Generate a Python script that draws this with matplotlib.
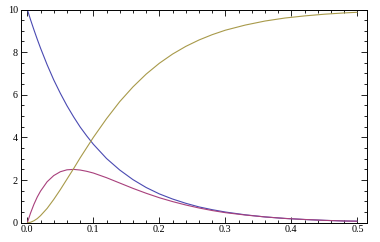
import matplotlib
matplotlib.use("Agg")
import matplotlib.pyplot as plt
from matplotlib.ticker import MultipleLocator

t = [0.0, 0.005, 0.01, 0.015, 0.02, 0.03, 0.04, 0.05, 0.06, 0.07, 0.08, 0.09, 0.10,
     0.12, 0.14, 0.16, 0.18, 0.20, 0.22, 0.24, 0.26, 0.28, 0.30, 0.33, 0.36,
     0.39, 0.42, 0.45, 0.48, 0.50]
a_vals = [10.0, 9.51, 9.05, 8.61, 8.19, 7.41, 6.70, 6.07, 5.49, 4.97, 4.49, 4.07, 3.68,
          3.01, 2.47, 2.02, 1.65, 1.35, 1.11, 0.91, 0.74, 0.61, 0.50, 0.37, 0.27,
          0.20, 0.15, 0.11, 0.08, 0.07]
b_vals = [0.0, 0.46, 0.86, 1.20, 1.48, 1.92, 2.21, 2.39, 2.48, 2.50, 2.47, 2.41, 2.33,
          2.11, 1.86, 1.61, 1.38, 1.17, 0.99, 0.83, 0.69, 0.57, 0.47, 0.36, 0.27,
          0.20, 0.15, 0.11, 0.08, 0.07]
c_vals = [0.0, 0.02, 0.09, 0.19, 0.33, 0.67, 1.09, 1.55, 2.04, 2.53, 3.04, 3.52, 4.00,
          4.88, 5.68, 6.37, 6.97, 7.48, 7.91, 8.27, 8.57, 8.82, 9.03, 9.27, 9.46,
          9.60, 9.70, 9.78, 9.84, 9.87]
x_ticks = [0.0, 0.1, 0.2, 0.3, 0.4, 0.5]
x_labels = ["0.0", "0.1", "0.2", "0.3", "0.4", "0.5"]
y_ticks = [0, 2, 4, 6, 8, 10]
y_labels = ["0", "2", "4", "6", "8", "10"]

colors = ["#4a4ab2", "#a8407c", "#a89a4a"]

fig = plt.figure(figsize=(3.8, 2.42), dpi=100)
ax = fig.add_axes([0.0545, 0.0798, 0.9105, 0.8809])

for vals, col in zip([a_vals, b_vals, c_vals], colors):
    ax.plot(t, vals, color=col, lw=0.8, solid_capstyle="butt")

ax.set_xlim(-0.01, 0.514)
ax.set_ylim(0, 10)
ax.set_xticks(x_ticks)
ax.set_xticklabels(x_labels)
ax.set_yticks(y_ticks)
ax.set_yticklabels(y_labels)
ax.xaxis.set_minor_locator(MultipleLocator(0.02))
ax.yaxis.set_minor_locator(MultipleLocator(0.5))

for sp in ax.spines.values():
    sp.set_linewidth(0.7)
ax.tick_params(which="both", direction="in", top=True, right=True, width=0.6,
               labelsize=7.3, pad=2)
ax.tick_params(which="major", length=4)
ax.tick_params(which="minor", length=2)
for lab in ax.get_xticklabels() + ax.get_yticklabels():
    lab.set_family("Liberation Serif")

fig.savefig("out.png", dpi=100)
